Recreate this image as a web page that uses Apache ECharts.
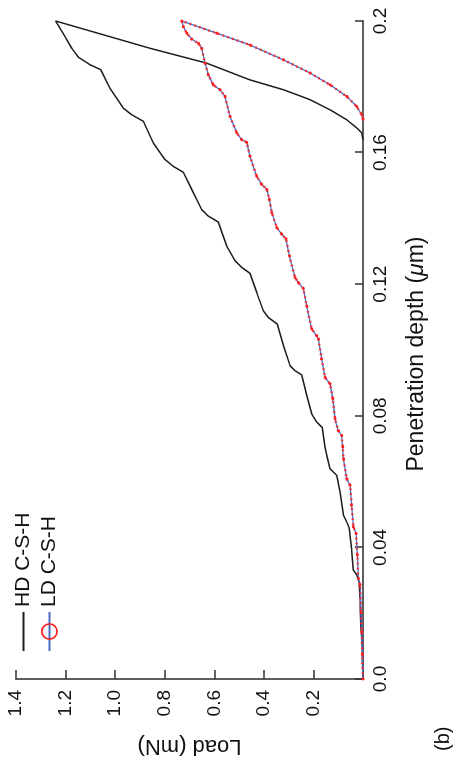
<!DOCTYPE html>
<html>
<head>
<meta charset="utf-8">
<script src="https://cdn.jsdelivr.net/npm/echarts/dist/echarts.min.js"></script>
<style>
  html, body { margin: 0; padding: 0; background: #fff; overflow: hidden; width: 454px; height: 765px; }
  /* the figure is drawn upright and then turned a quarter turn to the left */
  #chart { position: absolute; left: 0; top: 0; width: 765px; height: 454px;
           transform-origin: 0 0; transform: translateY(765px) rotate(-90deg); }
</style>
</head>
<body>
<div id="chart"></div>
<script>
// penetration depth (um) and load (mN), loading branch then unloading branch
const hdDepth = [0, 0.0023, 0.0104, 0.0165, 0.0245, 0.0296, 0.0316, 0.0331, 0.0397, 0.0458,
  0.0478, 0.0498, 0.0569, 0.0619, 0.0639, 0.068, 0.0705, 0.0764, 0.0781, 0.0806,
  0.0862, 0.0924, 0.0937, 0.0952, 0.1013, 0.1079, 0.1099, 0.1119, 0.1175, 0.1233,
  0.1251, 0.1271, 0.1316, 0.1389, 0.1407, 0.1427, 0.1458, 0.1488, 0.154, 0.1558,
  0.1579, 0.1629, 0.1695, 0.1715, 0.1735, 0.1796, 0.1852, 0.1867, 0.189, 0.1917,
  0.1952, 0.2,
  0.1917, 0.1872, 0.1821, 0.1791, 0.1761, 0.173, 0.17, 0.1675, 0.166, 0.1639];
const hdLoad = [0, 0.001, 0.003, 0.009, 0.012, 0.016, 0.025, 0.039, 0.046, 0.055,
  0.066, 0.079, 0.093, 0.106, 0.133, 0.146, 0.153, 0.164, 0.187, 0.207,
  0.227, 0.247, 0.274, 0.294, 0.321, 0.346, 0.382, 0.402, 0.429, 0.456,
  0.489, 0.516, 0.55, 0.584, 0.624, 0.651, 0.671, 0.691, 0.725, 0.765,
  0.799, 0.846, 0.886, 0.933, 0.967, 1.021, 1.058, 1.101, 1.148, 1.175,
  1.202, 1.24,
  0.859, 0.631, 0.456, 0.321, 0.214, 0.133, 0.066, 0.025, 0.005, 0];

const ldDepth = [0, 0.0074, 0.0145, 0.0205, 0.0286, 0.0306, 0.0377, 0.0442, 0.0463, 0.0528,
  0.0589, 0.0609, 0.067, 0.0705, 0.074, 0.0755, 0.0791, 0.0852, 0.0897, 0.0917,
  0.0973, 0.1033, 0.1043, 0.1064, 0.1134, 0.1187, 0.1205, 0.122, 0.1286, 0.1338,
  0.1352, 0.1372, 0.1417, 0.1458, 0.1488, 0.1503, 0.1528, 0.1589, 0.1631, 0.1639,
  0.166, 0.171, 0.1771, 0.1791, 0.1806, 0.1836, 0.1872, 0.1917, 0.1932, 0.1945,
  0.1963, 0.1983, 0.2,
  0.1963, 0.1927, 0.1882, 0.1842, 0.1806, 0.1771, 0.174, 0.1715, 0.1702];
const ldLoad = [0, 0.003, 0.005, 0.008, 0.012, 0.019, 0.023, 0.028, 0.039, 0.046,
  0.052, 0.066, 0.079, 0.082, 0.086, 0.1, 0.113, 0.122, 0.133, 0.153,
  0.167, 0.18, 0.187, 0.207, 0.227, 0.241, 0.261, 0.274, 0.297, 0.311,
  0.328, 0.348, 0.368, 0.378, 0.388, 0.408, 0.429, 0.456, 0.469, 0.489,
  0.509, 0.537, 0.557, 0.577, 0.604, 0.624, 0.637, 0.651, 0.664, 0.691,
  0.711, 0.725, 0.731,
  0.59, 0.456, 0.321, 0.214, 0.133, 0.066, 0.025, 0.005, 0];

const depthTicks = ['0.0', '0.04', '0.08', '0.12', '0.16', '0.2'];
const loadTicks = ['', '0.2', '0.4', '0.6', '0.8', '1.0', '1.2', '1.4'];

const FONT = '"Liberation Sans", Arial, Helvetica, sans-serif';
const AXIS_GREY = '#5e5e5e';

const pairs = (xs, ys) => xs.map((x, i) => [x, ys[i]]);
const hd = pairs(hdDepth, hdLoad);
const ld = pairs(ldDepth, ldLoad);

const chart = echarts.init(document.getElementById('chart'), null, { renderer: 'canvas' });

chart.setOption({
  animation: false,
  backgroundColor: '#fff',
  grid: { left: 84, right: 21, top: 16, bottom: 91 },
  legend: {
    orient: 'vertical',
    left: 108,
    top: 8,
    itemWidth: 39,
    itemHeight: 19,
    itemGap: 5,
    textStyle: { fontFamily: FONT, fontSize: 21, color: '#111' },
    data: [
      { name: 'HD C-S-H', itemStyle: { opacity: 0 } },
      { name: 'LD C-S-H', itemStyle: { color: 'rgba(0,0,0,0)', borderColor: '#ff1f1f', borderWidth: 1.6 } }
    ]
  },
  xAxis: {
    type: 'value',
    min: 0,
    max: 0.2,
    interval: 0.04,
    name: '{n|Penetration depth (}{i|μ}{n|m)}',
    nameLocation: 'middle',
    nameGap: 42,
    nameTextStyle: {
      padding: [0, 8, 0, 0],
      rich: {
        n: { fontFamily: FONT, fontSize: 23, color: '#111' },
        i: { fontFamily: FONT, fontSize: 23, color: '#111', fontStyle: 'italic' }
      }
    },
    axisLine: { show: true, onZero: false, lineStyle: { color: AXIS_GREY, width: 2 } },
    axisTick: { show: true, inside: true, length: 8, lineStyle: { color: '#333', width: 1.5 } },
    axisLabel: {
      margin: 8, fontFamily: FONT, fontSize: 19, color: '#111',
      formatter: v => depthTicks[Math.round(v / 0.04)]
    },
    splitLine: { show: false }
  },
  yAxis: {
    type: 'value',
    min: 0,
    max: 1.4,
    interval: 0.2,
    name: 'Load (mN)',
    nameLocation: 'middle',
    nameGap: 56,
    nameRotate: 90,
    nameTextStyle: { fontFamily: FONT, fontSize: 22, color: '#111' },
    axisLine: { show: true, onZero: false, lineStyle: { color: AXIS_GREY, width: 2 } },
    axisTick: { show: true, inside: true, length: 9, lineStyle: { color: '#333', width: 1.5 } },
    axisLabel: {
      margin: 11, fontFamily: FONT, fontSize: 19, color: '#111',
      formatter: v => loadTicks[Math.round(v / 0.2)]
    },
    splitLine: { show: false }
  },
  graphic: [{
    type: 'text', left: 14, top: 433,
    style: { text: '(b)', font: '20px ' + FONT, fill: '#111' }
  }],
  series: [
    {
      name: 'HD C-S-H', type: 'line', data: hd, symbol: 'none',
      lineStyle: { color: '#1c1c1c', width: 1.5 }, itemStyle: { color: '#1c1c1c' }
    },
    {
      name: 'LD C-S-H', type: 'line', data: ld, symbol: 'circle', symbolSize: 3, showAllSymbol: true,
      lineStyle: { color: '#4a6cc4', width: 1.3 }, itemStyle: { color: '#ff1f1f' }
    },
    {
      // red marker trail that runs along the LD curve
      name: 'LD marks', type: 'line', data: ld, symbol: 'none', silent: true,
      lineStyle: { color: '#ff2626', width: 2.4, type: [1.6, 3.4] }
    }
  ]
});
</script>
</body>
</html>
